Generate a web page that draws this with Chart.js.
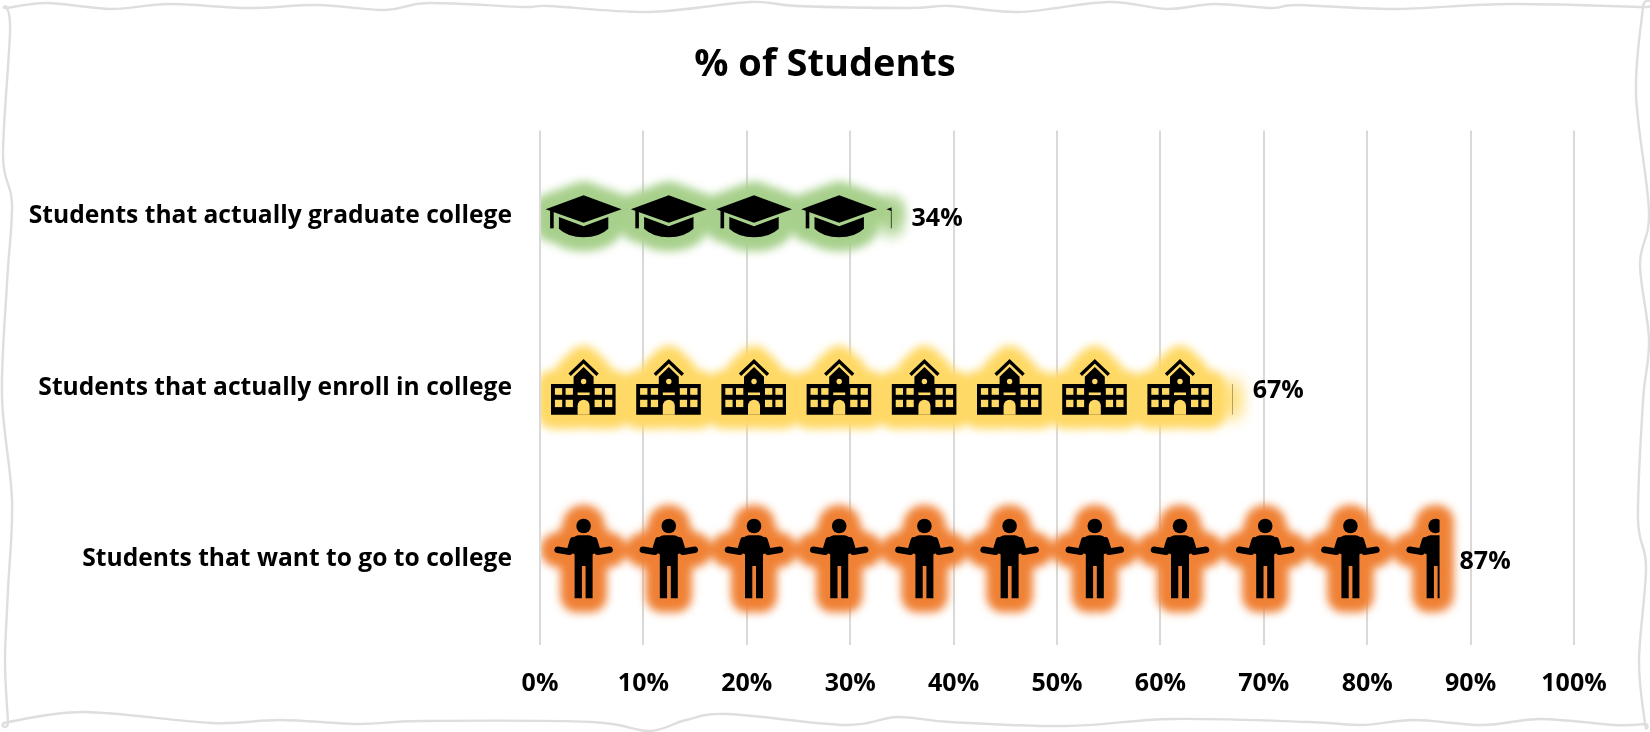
<!DOCTYPE html>
<html>
<head>
<meta charset="utf-8">
<title>% of Students</title>
<script src="https://cdn.jsdelivr.net/npm/chart.js@4/dist/chart.umd.min.js"></script>
<style>
    html, body { margin: 0; padding: 0; background: #fff; }
    canvas { display: block; }
</style>
</head>
<body>
<canvas id="studentsChart" width="1650" height="732"></canvas>
<script>
const categories = [
    "Students that actually graduate college",
    "Students that actually enroll in college",
    "Students that want to go to college"
];
const percentages = [34, 67, 87];
const tickLabels = ["0%", "10%", "20%", "30%", "40%", "50%", "60%", "70%", "80%", "90%", "100%"];

const iconNames = ["hat", "school", "person"];
const glowColors = ["#A9D18E", "#FFD966", "#F08236"];
const iconStep = 8.24; // one icon stands for this many percent

const fontFamily = "'Open Sans', sans-serif";
const textColor = "#000000";
const gridColor = "#D9D9D9";

// hand drawn looking frame around the picture, corners are doubled to keep them sharp
const frameOutline = [
    [7, 8], [7, 8], [47, 3], [111, 9], [169, 4], [248, 8], [317, 5], [385, 10], [428, 3], [523, 7], [549, 6],
    [649, 12], [750, 2], [797, 6], [908, 8], [950, 6], [1019, 12], [1108, 2], [1167, 9], [1214, 4],
    [1272, 8], [1298, 5], [1393, 9], [1510, 4], [1643, 7], [1643, 7],
    [1636, 94], [1649, 212], [1640, 264], [1649, 340], [1643, 401], [1638, 519], [1646, 567], [1639, 661],
    [1645, 724], [1645, 724],
    [1615, 725], [1541, 719], [1483, 725], [1414, 720], [1362, 725], [1309, 722], [1172, 719], [1066, 726],
    [950, 722], [897, 717], [845, 725], [728, 714], [686, 720], [649, 731], [591, 722], [422, 721], [359, 724],
    [280, 720], [211, 723], [84, 712], [8, 722], [8, 722],
    [5, 661], [8, 590], [12, 500], [2, 396], [7, 283], [12, 203], [3, 156], [10, 33]
];

function drawHat(ctx) {
    ctx.beginPath();
    ctx.moveTo(-38, -7);
    ctx.lineTo(0, -21);
    ctx.lineTo(38, -7);
    ctx.lineTo(0, 6.3);
    ctx.closePath();
    ctx.fill();

    ctx.fillRect(-33.5, -6, 3.6, 18);

    ctx.beginPath();
    ctx.moveTo(-24.7, 0.7);
    ctx.lineTo(0, 10);
    ctx.lineTo(24.7, 0.7);
    ctx.lineTo(24.7, 12.5);
    ctx.quadraticCurveTo(16, 21, 0, 21);
    ctx.quadraticCurveTo(-16, 21, -24.7, 12.5);
    ctx.closePath();
    ctx.fill();
}

function drawSchool(ctx) {
    ctx.lineWidth = 3.4;
    ctx.lineCap = "butt";
    ctx.beginPath();
    ctx.moveTo(-14, -13);
    ctx.lineTo(0, -26.5);
    ctx.lineTo(14, -13);
    ctx.stroke();

    ctx.beginPath();
    ctx.moveTo(0, -20.7);
    ctx.lineTo(10, -11);
    ctx.lineTo(10, -3.7);
    ctx.lineTo(32, -3.7);
    ctx.lineTo(32, 27);
    ctx.lineTo(-32.6, 27);
    ctx.lineTo(-32.6, -3.7);
    ctx.lineTo(-10, -3.7);
    ctx.lineTo(-10, -11);
    ctx.closePath();
    ctx.fill();

    // windows and door are cut out so the glow shows through
    ctx.save();
    ctx.globalCompositeOperation = "destination-out";
    [-28.7, -18, 11, 21.4].forEach(x => {
        ctx.fillRect(x, 0.3, 7.3, 6.7);
        ctx.fillRect(x, 12, 7.3, 7.3);
    });
    ctx.fillRect(-6, 4.7, 12, 2.6);
    ctx.beginPath();
    ctx.arc(0, -6.3, 2.7, 0, Math.PI * 2);
    ctx.fill();
    ctx.beginPath();
    ctx.arc(0, 18, 6, Math.PI, 0);
    ctx.lineTo(6, 27);
    ctx.lineTo(-6, 27);
    ctx.closePath();
    ctx.fill();
    ctx.restore();
}

function drawPerson(ctx) {
    ctx.beginPath();
    ctx.arc(0, -33.3, 7.3, 0, Math.PI * 2);
    ctx.fill();

    ctx.beginPath();
    ctx.moveTo(-9, 39);
    ctx.lineTo(-9, -5);
    ctx.lineTo(-14, -7);
    ctx.lineTo(-12, -18);
    ctx.quadraticCurveTo(-10, -24, -5, -24);
    ctx.lineTo(5, -24);
    ctx.quadraticCurveTo(10, -24, 12, -18);
    ctx.lineTo(14, -7);
    ctx.lineTo(9, -5);
    ctx.lineTo(9, 39);
    ctx.lineTo(2, 39);
    ctx.lineTo(2, 6.7);
    ctx.lineTo(-1.7, 6.7);
    ctx.lineTo(-1.7, 39);
    ctx.closePath();
    ctx.fill();

    ctx.lineWidth = 6.5;
    ctx.lineCap = "round";
    ctx.lineJoin = "round";
    ctx.beginPath();
    ctx.moveTo(-26, -9.5);
    ctx.lineTo(-14, -7.5);
    ctx.lineTo(-10.5, -19);
    ctx.moveTo(26, -9.5);
    ctx.lineTo(14, -7.5);
    ctx.lineTo(10.5, -19);
    ctx.stroke();
}

const iconDrawers = { hat: drawHat, school: drawSchool, person: drawPerson };

function newLayer(chart) {
    const layer = document.createElement("canvas");
    layer.width = chart.canvas.width;
    layer.height = chart.canvas.height;
    const ctx = layer.getContext("2d");
    const ratio = chart.currentDevicePixelRatio;
    ctx.setTransform(ratio, 0, 0, ratio, 0, 0);
    return { layer, ctx };
}

// icons for one bar, stacked from the base and cut off where the bar ends
function iconLayer(chart, bar, iconName, step) {
    const { layer, ctx } = newLayer(chart);
    const drawIcon = iconDrawers[iconName];
    const left = bar.base;
    const right = bar.x;

    ctx.save();
    ctx.beginPath();
    ctx.rect(left, bar.y - bar.height / 2, right - left, bar.height);
    ctx.clip();
    ctx.fillStyle = textColor;
    ctx.strokeStyle = textColor;
    for (let start = left; start < right; start += step) {
        ctx.save();
        ctx.translate(start + step / 2, bar.y);
        drawIcon(ctx);
        ctx.restore();
    }
    ctx.restore();
    return layer;
}

function glowLayer(chart, icons, color) {
    const width = chart.canvas.width;
    const height = chart.canvas.height;
    const ratio = chart.currentDevicePixelRatio;
    const spread = 14 * ratio;

    const tinted = newLayer(chart);
    tinted.ctx.setTransform(1, 0, 0, 1, 0, 0);
    tinted.ctx.drawImage(icons, 0, 0);
    tinted.ctx.globalCompositeOperation = "source-in";
    tinted.ctx.fillStyle = color;
    tinted.ctx.fillRect(0, 0, width, height);

    const grown = newLayer(chart);
    grown.ctx.setTransform(1, 0, 0, 1, 0, 0);
    [1, 0.6, 0.25].forEach(part => {
        for (let i = 0; i < 32; i++) {
            const angle = i / 32 * Math.PI * 2;
            grown.ctx.drawImage(tinted.layer, Math.cos(angle) * spread * part, Math.sin(angle) * spread * part);
        }
    });
    grown.ctx.drawImage(tinted.layer, 0, 0);

    const blurred = newLayer(chart);
    blurred.ctx.setTransform(1, 0, 0, 1, 0, 0);
    blurred.ctx.filter = `blur(${4 * ratio}px)`;
    blurred.ctx.drawImage(grown.layer, 0, 0);
    return blurred.layer;
}

const framePlugin = {
    id: "frame",
    beforeDraw(chart) {
        const ctx = chart.ctx;
        const count = frameOutline.length;
        ctx.save();
        ctx.strokeStyle = "#DEDEDE";
        ctx.lineWidth = 2.4;
        ctx.beginPath();
        ctx.moveTo(frameOutline[0][0], frameOutline[0][1]);
        for (let i = 0; i < count; i++) {
            const p0 = frameOutline[(i - 1 + count) % count];
            const p1 = frameOutline[i];
            const p2 = frameOutline[(i + 1) % count];
            const p3 = frameOutline[(i + 2) % count];
            ctx.bezierCurveTo(
                p1[0] + (p2[0] - p0[0]) / 6, p1[1] + (p2[1] - p0[1]) / 6,
                p2[0] - (p3[0] - p1[0]) / 6, p2[1] - (p3[1] - p1[1]) / 6,
                p2[0], p2[1]
            );
        }
        ctx.stroke();
        ctx.restore();
    }
};

// the title sits in the middle of the whole picture, not of the padded box
const centerTitlePlugin = {
    id: "centerTitle",
    afterLayout(chart) {
        chart.titleBlock.left = 0;
        chart.titleBlock.right = chart.width;
    }
};

const pictogramPlugin = {
    id: "pictogram",
    afterDatasetsDraw(chart) {
        const ctx = chart.ctx;
        const xScale = chart.scales.x;
        const step = xScale.getPixelForValue(iconStep) - xScale.getPixelForValue(0);
        const width = chart.width;
        const height = chart.height;

        chart.getDatasetMeta(0).data.forEach((bar, index) => {
            const icons = iconLayer(chart, bar, iconNames[index], step);
            const glow = glowLayer(chart, icons, glowColors[index]);

            ctx.save();
            ctx.beginPath();
            ctx.rect(bar.base, 0, width - bar.base, height);
            ctx.clip();
            ctx.drawImage(glow, 0, 0, width, height);
            ctx.drawImage(icons, 0, 0, width, height);
            ctx.restore();

            ctx.save();
            ctx.fillStyle = textColor;
            ctx.font = `bold 25px ${fontFamily}`;
            ctx.textAlign = "left";
            ctx.textBaseline = "middle";
            ctx.fillText(percentages[index] + "%", bar.x + 20, bar.y + 3);
            ctx.restore();
        });
    }
};

new Chart("studentsChart", {
    type: "bar",
    data: {
        labels: categories,
        datasets: [
            {
                data: percentages,
                label: "% of Students",
                backgroundColor: "rgba(0,0,0,0)",
                barPercentage: 1,
                categoryPercentage: 1
            }
        ]
    },
    plugins: [framePlugin, centerTitlePlugin, pictogramPlugin],
    options: {
        indexAxis: "y",
        responsive: false,
        animation: false,
        layout: {
            padding: { right: 76 }
        },
        plugins: {
            legend: { display: false },
            tooltip: { enabled: false },
            title: {
                display: true,
                text: "% of Students",
                color: textColor,
                font: { family: fontFamily, size: 38, weight: "bold" },
                padding: { top: 42, bottom: 43 }
            }
        },
        scales: {
            x: {
                min: 0,
                max: 100,
                border: { display: false },
                grid: { color: gridColor, lineWidth: 2, drawTicks: false },
                ticks: {
                    stepSize: 10,
                    maxRotation: 0,
                    padding: 24,
                    color: textColor,
                    font: { family: fontFamily, size: 25, weight: "bold" },
                    callback: (value, index) => tickLabels[index]
                },
                afterFit(scale) {
                    scale.height = 87;
                }
            },
            y: {
                border: { display: false },
                grid: { display: false, drawTicks: false },
                ticks: {
                    padding: 28,
                    color: textColor,
                    font: { family: fontFamily, size: 24.6, weight: "bold" }
                },
                afterFit(scale) {
                    scale.width = 540;
                }
            }
        }
    }
});
</script>
</body>
</html>
